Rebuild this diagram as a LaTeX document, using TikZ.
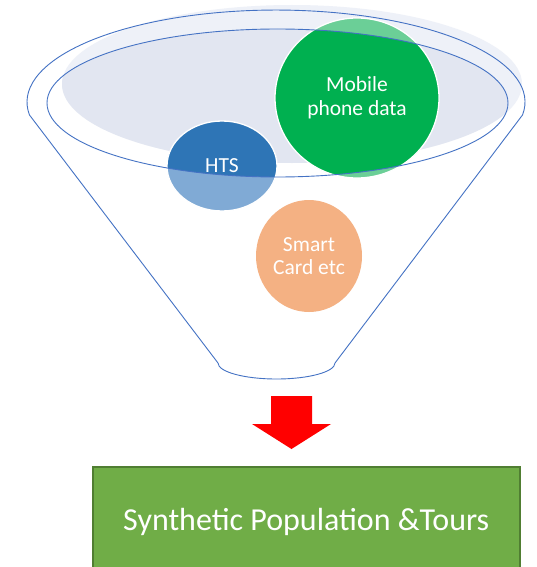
\documentclass[tikz,border=0pt]{standalone}
\usepackage{fontspec}
\setmainfont{Carlito}
\usetikzlibrary{shapes.geometric}
\definecolor{funnelline}{HTML}{4472C4}
\definecolor{shadowlight}{HTML}{EEF1F8}
\definecolor{shadowdark}{HTML}{E2E6F1}
\definecolor{mobilefull}{HTML}{00B050}
\definecolor{mobilelight}{HTML}{6BCF97}
\definecolor{htsfull}{HTML}{2E75B6}
\definecolor{htslight}{HTML}{80AAD5}
\definecolor{smartfill}{HTML}{F4B183}
\definecolor{boxgreen}{HTML}{70AD47}
\definecolor{boxborder}{HTML}{507E32}
\tikzset{
  rim/.style={draw=funnelline, line width=0.9pt},
  bubble/.style={ellipse, draw=white, line width=1.3pt, text=white, align=center, font=\fontsize{21.5}{23.5}\selectfont, inner sep=0pt},
  resultbox/.style={draw=boxborder, fill=boxgreen, line width=1.5pt, text=white, font=\fontsize{32}{36}\selectfont, minimum width=427pt, minimum height=110pt, inner sep=0pt},
}
\begin{document}
\begin{tikzpicture}[x=1pt,y=-1pt]
\clip (0,0) rectangle (536,567);
\fill[white] (0,0) rectangle (536,567);
% shadow of the opening
\fill[shadowlight] (292,84) ellipse [x radius=230, y radius=79];
\begin{scope}
  \clip (277.5,103) ellipse [x radius=230.5, y radius=74];
  \fill[shadowdark] (292,84) ellipse [x radius=230, y radius=79];
\end{scope}
% light fills (parts outside the opening)
\fill[mobilelight] (357,98) ellipse [x radius=82, y radius=80];
\fill[htslight] (222,166) ellipse [x radius=55, y radius=45];
\begin{scope}
  \clip (277.5,103) ellipse [x radius=230.5, y radius=74];
  \fill[mobilefull] (357,98) ellipse [x radius=82, y radius=80];
  \fill[htsfull] (222,166) ellipse [x radius=55, y radius=45];
\end{scope}
% bubbles with labels
\node[bubble, minimum width=164pt, minimum height=160pt] (mobile) at (357,98) {Mobile\\phone data};
\node[bubble, minimum width=110pt, minimum height=90pt] (hts) at (222,166) {HTS};
\node[bubble, draw=none, fill=smartfill, minimum width=106pt, minimum height=112pt] (smart) at (309,256) {Smart\\Card etc};
% funnel outline
\draw[rim] (277.5,103) ellipse [x radius=230.5, y radius=74];
\draw[rim, line join=round] (522.5,115) arc [start angle=8.1, end angle=-188.1, x radius=249, y radius=92]
  -- (218,363) arc [start angle=180, end angle=0, x radius=58.5, y radius=16] -- cycle;
% block arrow
\fill[red] (271,396) -- (312,396) -- (312,424) -- (331,424) -- (291.5,449) -- (252,424) -- (271,424) -- cycle;
% result box
\node[resultbox, anchor=north west] (result) at (92,466) {Synthetic Population \&Tours};
\end{tikzpicture}
\end{document}
